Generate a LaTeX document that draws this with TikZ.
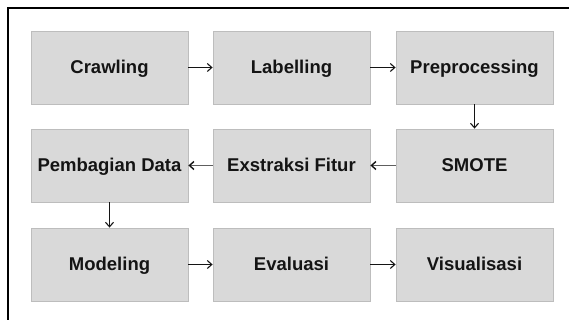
\documentclass[tikz,border=0pt]{standalone}
\usepackage{fontspec}
\setmainfont{Liberation Sans}
\usetikzlibrary{arrows.meta}
\definecolor{boxfill}{HTML}{D9D9D9}
\definecolor{boxline}{HTML}{BDBDBD}
\definecolor{ink}{HTML}{141414}
\definecolor{shaftgray}{HTML}{5E5E5E}
\begin{document}
\begin{tikzpicture}[x=1pt,y=1pt,
  stage/.style={draw=boxline, fill=boxfill, line width=0.8pt,
    minimum width=157pt, minimum height=73pt, inner sep=0pt,
    text height=13pt, text depth=0pt,
    font=\fontsize{18.5}{21}\selectfont\bfseries, text=ink},
  flow/.style={draw=ink, line width=1.1pt, -{Straight Barb[length=4.5pt,width=8pt]}},
  backflow/.style={draw=shaftgray, line width=1.4pt, -{Straight Barb[length=4.5pt,width=8pt,color=ink]}}
]
\useasboundingbox (0,0) rectangle (569,320);
% outer frame (top and left edges)
\draw[line width=2pt, black] (8,0) -- (8,312) -- (569,312);

% stages
\node[stage] (crawl) at (109.5,252.5) {Crawling};
\node[stage] (label) at (291.5,252.5) {Labelling};
\node[stage] (prep)  at (474.5,252.5) {Preprocessing};
\node[stage] (split) at (109.5,154.5) {Pembagian Data};
\node[stage] (feat)  at (291.5,154.5) {Exstraksi Fitur};
\node[stage] (smote) at (474.5,154.5) {SMOTE};
\node[stage] (model) at (109.5,55.5) {Modeling};
\node[stage] (eval)  at (291.5,55.5) {Evaluasi};
\node[stage] (vis)   at (474.5,55.5) {Visualisasi};

% connectors
\draw[flow] (crawl) -- (label);
\draw[flow] (label) -- (prep);
\draw[flow] (prep) -- (smote);
\draw[backflow] (smote) -- (feat);
\draw[backflow] (feat) -- (split);
\draw[flow] (split) -- (model);
\draw[flow] (model) -- (eval);
\draw[flow] (eval) -- (vis);
\end{tikzpicture}
\end{document}
